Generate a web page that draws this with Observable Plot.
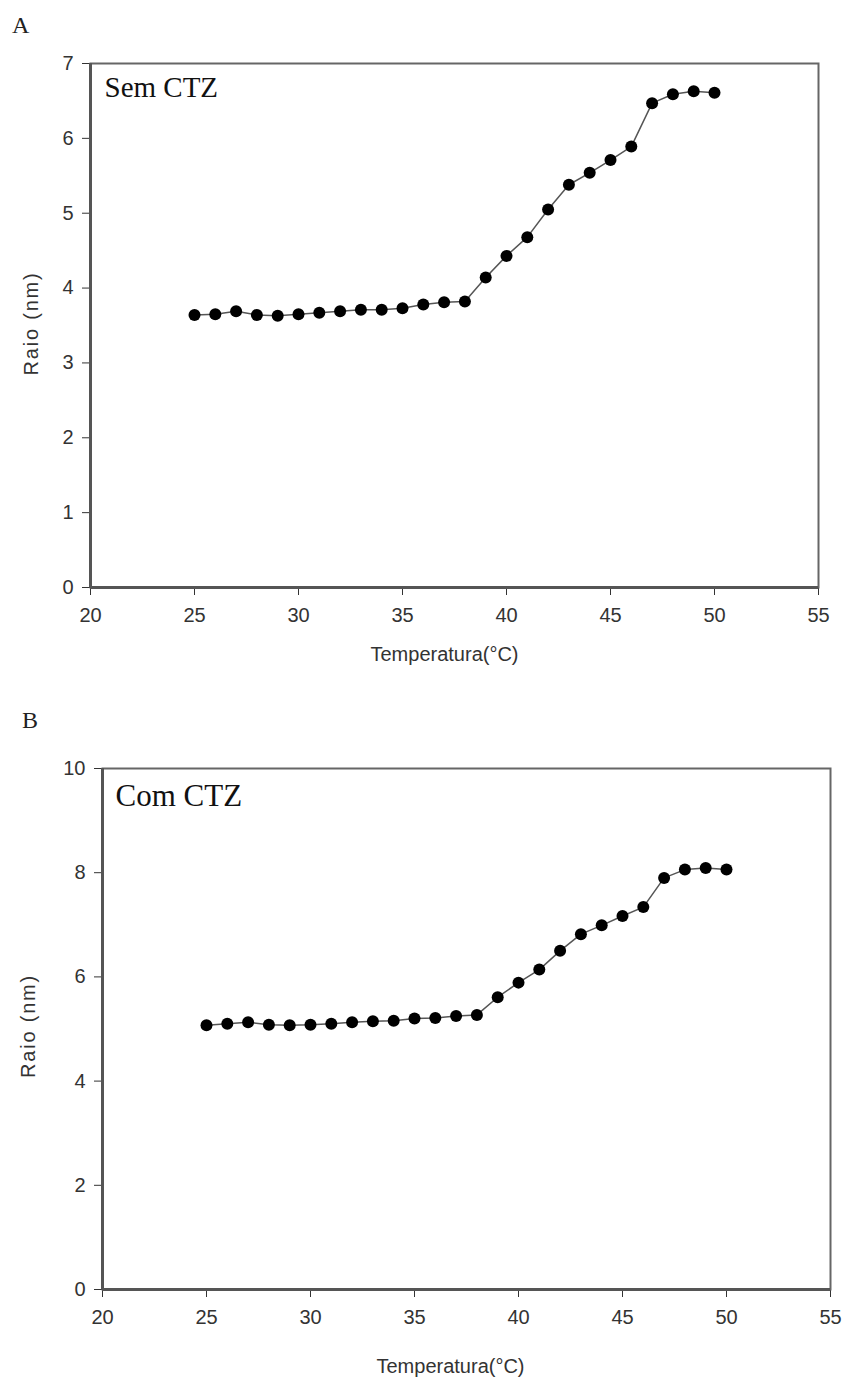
<!DOCTYPE html>
<html>
<head>
<meta charset="utf-8">
<script src="https://cdn.jsdelivr.net/npm/d3@7"></script>
<script src="https://cdn.jsdelivr.net/npm/@observablehq/plot@0.6"></script>
<style>
  html, body { margin: 0; padding: 0; background: #fff; }
  #wrap { position: relative; width: 842px; height: 1383px; overflow: hidden; }
  .panel { position: absolute; left: 0; }
  .letter { position: absolute; font-family: "Liberation Serif", "Times New Roman", serif; font-size: 24px; color: #222; line-height: 1; }
</style>
</head>
<body>
<div id="wrap">
  <div class="letter" style="left:12px; top:13px;">A</div>
  <div class="letter" style="left:22px; top:708px;">B</div>
  <div id="pa" class="panel" style="top:0px;"></div>
  <div id="pb" class="panel" style="top:680px;"></div>
</div>
<script>
// Temperature (°C)
const temperatures = [25,26,27,28,29,30,31,32,33,34,35,36,37,38,39,40,41,42,43,44,45,46,47,48,49,50];
// Panel A: Sem CTZ — radius (nm)
const raioSemCTZ = [3.64,3.65,3.69,3.64,3.63,3.65,3.67,3.69,3.71,3.71,3.73,3.78,3.81,3.82,4.14,4.43,4.68,5.05,5.38,5.54,5.71,5.89,6.47,6.59,6.63,6.61];
// Panel B: Com CTZ — radius (nm)
const raioComCTZ = [5.07,5.10,5.13,5.08,5.07,5.08,5.10,5.13,5.15,5.16,5.20,5.21,5.25,5.27,5.61,5.89,6.14,6.50,6.82,6.99,7.17,7.34,7.90,8.06,8.09,8.06];

const xTicks = [20,25,30,35,40,45,50,55];
const yTicksA = [0,1,2,3,4,5,6,7];
const yTicksB = [0,2,4,6,8,10];

const xLabel = "Temperatura(°C)";
const yLabel = "Raio (nm)";
const titleA = "Sem CTZ";
const titleB = "Com CTZ";

function panel(values, yTicks, yMax, title, opts) {
  const data = temperatures.map((t, i) => ({t, r: values[i]}));
  const svg = Plot.plot({
    width: 842,
    height: opts.height,
    marginLeft: opts.ml,
    marginRight: opts.mr,
    marginTop: opts.mt,
    marginBottom: opts.mb,
    style: {fontFamily: "'Liberation Sans', Arial, sans-serif", fontSize: "20px", color: "#333", background: "transparent"},
    x: {domain: [20, 55], ticks: xTicks, tickFormat: d3.format("d"), tickSize: 8, tickPadding: 12, label: null},
    y: {domain: [0, yMax], ticks: yTicks, tickFormat: d3.format("d"), tickSize: 8, tickPadding: 9, label: null},
    marks: [
      Plot.frame({stroke: "#666", strokeWidth: 2}),
      Plot.ruleY([0], {stroke: "#555", strokeWidth: 3}),
      Plot.ruleX([20], {stroke: "#555", strokeWidth: 3}),
      Plot.line(data, {x: "t", y: "r", stroke: "#555", strokeWidth: 1.5}),
      Plot.dot(data, {x: "t", y: "r", r: 6, fill: "#000", stroke: "none"}),
      Plot.text([title], {frameAnchor: "top-left", text: d => d, dx: opts.tdx, dy: opts.tdy, lineAnchor: "top", textAnchor: "start",
        fontFamily: "'Liberation Serif', 'Times New Roman', serif", fontSize: opts.tfs, fill: "#111"}),
      Plot.text([xLabel], {frameAnchor: "bottom", text: d => d, dx: opts.xldx, dy: opts.xldy, lineAnchor: "middle", textAnchor: "middle",
        fontSize: 20, fill: "#333"}),
      Plot.text([yLabel], {frameAnchor: "left", text: d => d, dx: opts.yldx, dy: opts.yldy, rotate: -90, lineAnchor: "middle", textAnchor: "middle",
        fontSize: 20, fill: "#333"})
    ]
  });
  d3.select(svg).selectAll("text").filter(function() { return this.textContent === yLabel; })
    .attr("letter-spacing", "1.8px");
  return svg;
}

const svgA = panel(raioSemCTZ, yTicksA, 7, titleA,
  {height: 680, ml: 90, mr: 24, mt: 63, mb: 93, tdx: 14, tdy: 13, tfs: 29, xldx: -10, xldy: 67, yldx: -59, yldy: -2});
document.getElementById("pa").appendChild(svgA);

const svgB = panel(raioComCTZ, yTicksB, 10, titleB,
  {height: 703, ml: 102, mr: 12, mt: 88, mb: 94, tdx: 13, tdy: 15, tfs: 31, xldx: -16, xldy: 77, yldx: -74, yldy: -3});
document.getElementById("pb").appendChild(svgB);
</script>
</body>
</html>
